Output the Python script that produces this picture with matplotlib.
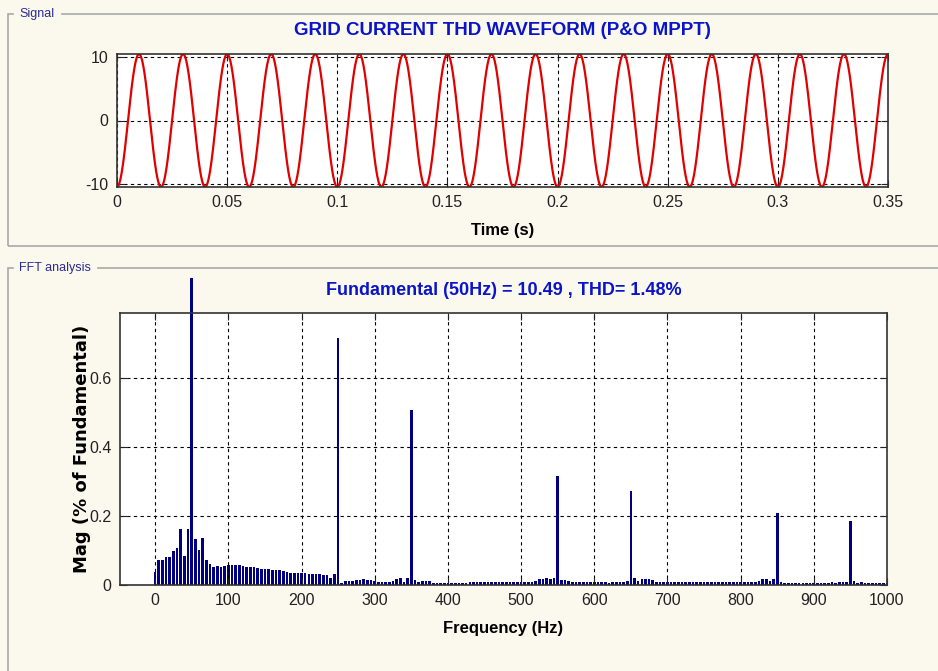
import numpy as np
import matplotlib.pyplot as plt
from matplotlib.patches import Rectangle

plt.rcParams['font.family'] = ['Liberation Sans', 'DejaVu Sans']
plt.rcParams['axes.unicode_minus'] = False

# signal: fundamental read from the FFT title
fund_amp = 10.49
fund_freq = 50
t_end = 0.35

# FFT magnitudes (% of fundamental), 5 Hz bins from 0 to 1000 Hz
# (50 Hz bar is drawn to where it is cut off in the original)
mag = [
    0.037, 0.071, 0.071, 0.080, 0.080, 0.097, 0.106, 0.163, 0.085, 0.163,   # 0-45
    0.889, 0.133, 0.100, 0.137, 0.072, 0.062, 0.051, 0.055, 0.052, 0.055,   # 50-95
    0.059, 0.059, 0.057, 0.057, 0.055, 0.053, 0.052, 0.051, 0.050, 0.047,   # 100-145
    0.046, 0.045, 0.044, 0.043, 0.042, 0.041, 0.038, 0.036, 0.034, 0.034,   # 150-195
    0.034, 0.034, 0.033, 0.032, 0.031, 0.033, 0.030, 0.028, 0.021, 0.033,   # 200-245
    0.715, 0.006, 0.011, 0.012, 0.013, 0.015, 0.015, 0.016, 0.015, 0.015,   # 250-295
    0.012, 0.010, 0.010, 0.009, 0.010, 0.011, 0.016, 0.020, 0.008, 0.020,   # 300-345
    0.506, 0.014, 0.010, 0.012, 0.011, 0.011, 0.007, 0.006, 0.006, 0.005,   # 350-395
    0.005, 0.005, 0.005, 0.005, 0.005, 0.006, 0.008, 0.009, 0.009, 0.009,   # 400-445
    0.009, 0.009, 0.009, 0.009, 0.009, 0.009, 0.010, 0.010, 0.010, 0.010,   # 450-495
    0.010, 0.010, 0.010, 0.010, 0.012, 0.016, 0.017, 0.019, 0.017, 0.020,   # 500-545
    0.316, 0.015, 0.014, 0.013, 0.009, 0.009, 0.009, 0.008, 0.008, 0.009,   # 550-595
    0.009, 0.009, 0.008, 0.008, 0.007, 0.008, 0.009, 0.008, 0.009, 0.011,   # 600-645
    0.272, 0.019, 0.012, 0.018, 0.016, 0.016, 0.015, 0.009, 0.008, 0.008,   # 650-695
    0.008, 0.008, 0.008, 0.008, 0.008, 0.008, 0.008, 0.008, 0.008, 0.008,   # 700-745
    0.008, 0.008, 0.009, 0.008, 0.008, 0.008, 0.008, 0.008, 0.008, 0.009,   # 750-795
    0.009, 0.008, 0.009, 0.009, 0.010, 0.011, 0.016, 0.016, 0.012, 0.017,   # 800-845
    0.209, 0.008, 0.006, 0.005, 0.005, 0.005, 0.005, 0.005, 0.005, 0.006,   # 850-895
    0.006, 0.006, 0.006, 0.006, 0.007, 0.008, 0.007, 0.010, 0.010, 0.008,   # 900-945
    0.186, 0.011, 0.007, 0.009, 0.007, 0.006, 0.006, 0.006, 0.006, 0.006,   # 950-995
    0.006,                                                                  # 1000
]
freqs = np.arange(len(mag)) * 5

bg = '#fbf8ee'
navy = '#000080'
title_blue = '#0a14c8'
frame_col = '#a8a8a8'

W, H = 938, 671
fig = plt.figure(figsize=(W / 100, H / 100), dpi=100, facecolor=bg)

def fx(px):
    return px / W

def fy(py):
    return 1 - py / H

# group boxes like the powergui window
fig.add_artist(Rectangle((fx(8), fy(246)), fx(940 - 8), fy(14) - fy(246),
                         transform=fig.transFigure, fill=False, ec=frame_col, lw=1.2))
fig.add_artist(Rectangle((fx(8), fy(680)), fx(940 - 8), fy(268) - fy(680),
                         transform=fig.transFigure, fill=False, ec=frame_col, lw=1.2))
fig.text(fx(19), fy(14), 'Signal', color='#2b2b90', fontsize=9, va='center',
         ha='left', backgroundcolor=bg)
fig.text(fx(19), fy(268), 'FFT analysis', color='#2b2b90', fontsize=9, va='center',
         ha='left', backgroundcolor=bg)

# top: signal
ax1 = fig.add_axes([fx(117), fy(187), fx(888 - 117), fy(54) - fy(187)])
t = np.linspace(0, t_end, 3000)
ax1.plot(t, -fund_amp * np.cos(2 * np.pi * fund_freq * t), color='#e00000', lw=1.6)
ax1.set_xlim(0, t_end)
ax1.set_ylim(-10.5, 10.5)
ax1.set_xticks(np.arange(0, 0.351, 0.05))
ax1.set_xticklabels(['0', '0.05', '0.1', '0.15', '0.2', '0.25', '0.3', '0.35'])
ax1.set_yticks([-10, 0, 10])
ax1.set_xlabel('Time (s)', fontsize=12, fontweight='bold', labelpad=9)
ax1.set_title('GRID CURRENT THD WAVEFORM (P&O MPPT)', color=title_blue,
              fontsize=13.5, fontweight='bold', pad=14)

# bottom: FFT
ax2 = fig.add_axes([fx(120), fy(585), fx(887 - 120), fy(313) - fy(585)])
ax2.bar(freqs, mag, width=3.6, color=navy, edgecolor='none', clip_on=False)
ax2.set_xlim(-48, 1000)
ax2.set_ylim(0, 0.787)
ax2.set_xticks(np.arange(0, 1001, 100))
ax2.set_yticks([0, 0.2, 0.4, 0.6])
ax2.set_yticklabels(['0', '0.2', '0.4', '0.6'])
ax2.set_xlabel('Frequency (Hz)', fontsize=12, fontweight='bold', labelpad=9)
ax2.set_ylabel('Mag (% of Fundamental)', fontsize=13, fontweight='heavy',
               family=['DejaVu Sans'], labelpad=-1)
ax2.set_title('Fundamental (50Hz) = 10.49 , THD= 1.48%', color=title_blue,
              fontsize=13, fontweight='bold', pad=13)

for ax in (ax1, ax2):
    ax.set_facecolor('white')
    ax.grid(True, color='black', linestyle=(0, (3, 3)), lw=0.8)
    ax.tick_params(direction='in', top=True, right=True, labelsize=11.5,
                   colors='#222222', length=5, pad=6)
    for s in ax.spines.values():
        s.set_color('#333333')
        s.set_linewidth(1.2)

fig.savefig('out.png', dpi=100, facecolor=bg)
